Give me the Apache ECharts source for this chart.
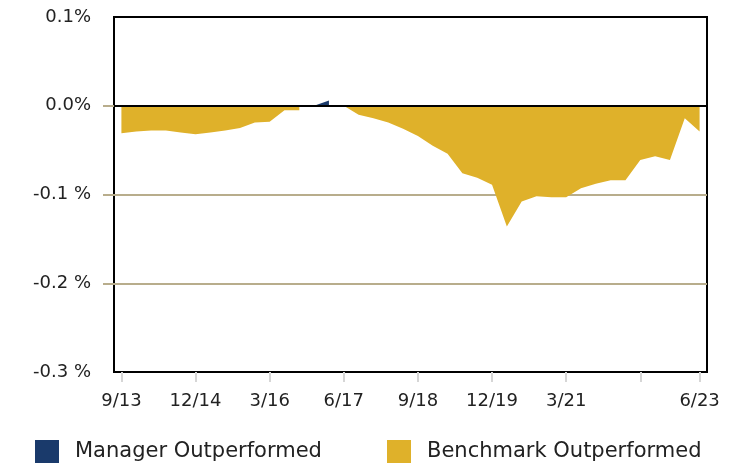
<!DOCTYPE html>
<html style="height: 100%">
<head>
    <meta charset="utf-8">
    <script src="https://cdn.jsdelivr.net/npm/echarts@6.0.0/dist/echarts.min.js"></script>
</head>
<body style="height: 100%; margin: 0; background: #fff">
    <div id="container" style="width: 744px; height: 467px"></div>
    <script type="text/javascript">
        var myChart = echarts.init(document.getElementById('container'));

        // colours
        const navy = '#1A3A6B', gold = '#DFB12A', tan = '#B8AD8C';
        const font = 'DejaVu Sans';

        // quarterly dates, 9/13 .. 6/23
        const quarters = [
            '9/13', '12/13', '3/14', '6/14', '9/14', '12/14', '3/15', '6/15', '9/15', '12/15',
            '3/16', '6/16', '9/16', '12/16', '3/17', '6/17', '9/17', '12/17', '3/18', '6/18',
            '9/18', '12/18', '3/19', '6/19', '9/19', '12/19', '3/20', '6/20', '9/20', '12/20',
            '3/21', '6/21', '9/21', '12/21', '3/22', '6/22', '9/22', '12/22', '3/23', '6/23'
        ];
        const labelledQuarters = ['9/13', '12/14', '3/16', '6/17', '9/18', '12/19', '3/21', '6/23'];
        const tickQuarters = ['9/13', '12/14', '3/16', '6/17', '9/18', '12/19', '3/21', '6/22', '6/23'];

        // excess return (%)
        const managerOut = [
            null, null, null, null, null, null, null, null, null, null,
            null, null, null, 0, 0.006, null, null, null, null, null,
            null, null, null, null, null, null, null, null, null, null,
            null, null, null, null, null, null, null, null, null, null
        ];
        const benchmarkOut = [
            -0.031, -0.029, -0.028, -0.028, -0.030, -0.032, -0.030, -0.028, -0.025, -0.019,
            -0.018, -0.005, -0.005, null, null, 0, -0.010, -0.014, -0.019, -0.026,
            -0.034, -0.045, -0.054, -0.076, -0.081, -0.089, -0.136, -0.108, -0.102, -0.103,
            -0.103, -0.093, -0.088, -0.084, -0.084, -0.061, -0.057, -0.061, -0.014, -0.029
        ];

        // y tick labels
        const yTicks = [0.1, 0, -0.1, -0.2, -0.3];
        const yTickLabels = ['0.1%', '0.0%', '-0.1 %', '-0.2 %', '-0.3 %'];

        function yLabel(v) {
            for (var i = 0; i < yTicks.length; i++) {
                if (Math.abs(yTicks[i] - v) < 1e-6) return yTickLabels[i];
            }
            return '';
        }

        var option = {
            animation: false,
            textStyle: { fontFamily: font },
            grid: {
                left: 114, right: 37, top: 17, bottom: 95,
                show: true, borderColor: '#000', borderWidth: 2
            },
            legend: [
                {
                    data: ['Manager Outperformed'],
                    left: 35, top: 440, padding: 0,
                    icon: 'rect', itemWidth: 24, itemHeight: 23,
                    textStyle: { fontFamily: font, fontSize: 21, color: '#222', padding: [0, 0, 0, 11] }
                },
                {
                    data: ['Benchmark Outperformed'],
                    left: 387, top: 440, padding: 0,
                    icon: 'rect', itemWidth: 24, itemHeight: 23,
                    textStyle: { fontFamily: font, fontSize: 21, color: '#222', padding: [0, 0, 0, 11] }
                }
            ],
            xAxis: {
                type: 'category',
                data: quarters,
                boundaryGap: true,
                axisLine: { show: true, onZero: false, lineStyle: { color: '#000', width: 2 } },
                axisTick: {
                    show: true, alignWithLabel: true, length: 10,
                    interval: function (i, v) { return tickQuarters.indexOf(v) >= 0; },
                    lineStyle: { color: '#D6D6D6', width: 2 }
                },
                axisLabel: {
                    margin: 20, fontSize: 18, fontFamily: font, color: '#222',
                    interval: function (i, v) { return labelledQuarters.indexOf(v) >= 0; }
                },
                splitLine: { show: false }
            },
            yAxis: {
                type: 'value',
                min: -0.3, max: 0.1, interval: 0.1,
                axisLine: { show: false },
                axisTick: {
                    show: true, length: 11, customValues: [0, -0.1, -0.2],
                    lineStyle: { color: tan, width: 2 }
                },
                axisLabel: {
                    margin: 23, fontSize: 18, fontFamily: font, color: '#222',
                    formatter: yLabel
                },
                splitLine: { show: true, lineStyle: { color: tan, width: 2 } }
            },
            series: [
                {
                    name: 'Manager Outperformed', type: 'line',
                    data: managerOut,
                    showSymbol: false, connectNulls: false,
                    itemStyle: { color: navy },
                    lineStyle: { width: 0 },
                    areaStyle: { color: navy, opacity: 1 }
                },
                {
                    name: 'Benchmark Outperformed', type: 'line',
                    data: benchmarkOut,
                    showSymbol: false, connectNulls: false,
                    itemStyle: { color: gold },
                    lineStyle: { width: 0 },
                    areaStyle: { color: gold, opacity: 1 },
                    markLine: {
                        silent: true, symbol: 'none', z: 10,
                        label: { show: false },
                        lineStyle: { color: '#000', width: 2, type: 'solid' },
                        data: [{ yAxis: 0 }]
                    }
                }
            ]
        };

        myChart.setOption(option);
        window.addEventListener('resize', function() { myChart.resize(); });
    </script>
</body>
</html>
